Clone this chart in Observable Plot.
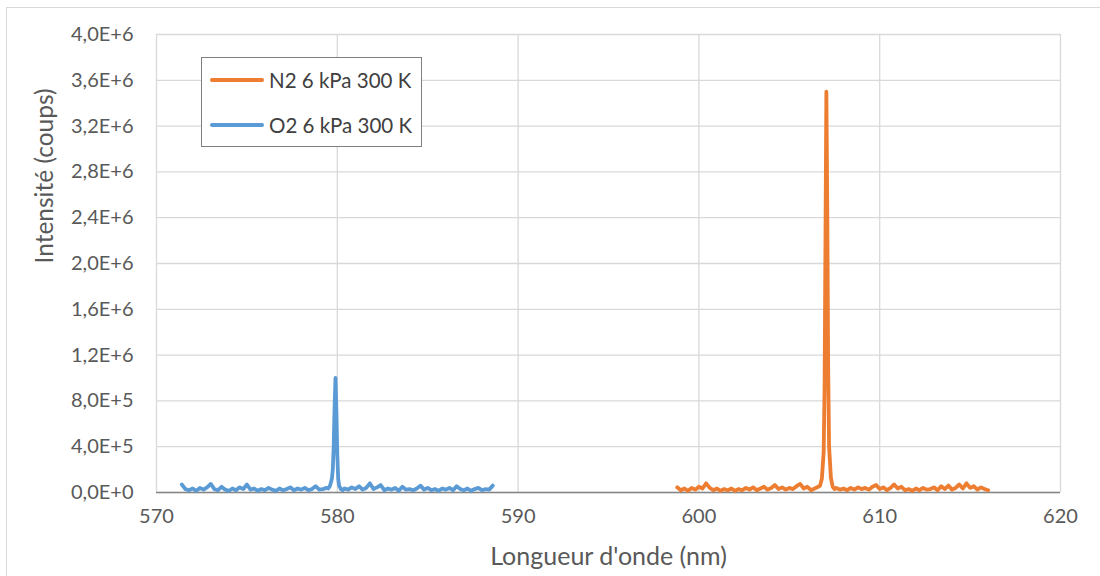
<!DOCTYPE html>
<html>
<head>
<meta charset="utf-8">
<script src="https://cdn.jsdelivr.net/npm/d3@7"></script>
<script src="https://cdn.jsdelivr.net/npm/@observablehq/plot@0.6"></script>
<style>
  html, body { margin: 0; padding: 0; background: #fff; overflow: hidden; }
  body { width: 1100px; height: 576px; position: relative; font-family: Lato, "Open Sans", sans-serif; }
  #frame { position: absolute; left: 6px; top: 7px; width: 1200px; height: 700px; border: 1px solid #d9d9d9; box-sizing: border-box; }
  #chart { position: absolute; left: 0; top: 0; }
  #legend { position: absolute; left: 201px; top: 57px; width: 221px; height: 90px; border: 1.5px solid #7f7f7f; background: #fff; box-sizing: border-box; }
  .item { position: absolute; left: 8px; height: 24px; display: flex; align-items: center; font-size: 20.5px; color: #404040; white-space: nowrap; }
  .sw { width: 54px; height: 3.8px; margin-right: 5px; border-radius: 1.9px; }
</style>
</head>
<body>
<div id="frame"></div>
<div id="chart"></div>
<div id="legend"></div>
<script>
// ---- data ----
const seriesNames = ["N2 6 kPa 300 K", "O2 6 kPa 300 K"];
const seriesColors = ["#ED7D31", "#5B9BD5"];

const o2Wavelength = [
  571.4, 571.6, 571.8, 572.0, 572.2, 572.4, 572.6, 572.8, 573.0, 573.2,
  573.4, 573.6, 573.8, 574.0, 574.2, 574.4, 574.6, 574.8, 575.0, 575.2,
  575.4, 575.6, 575.8, 576.0, 576.2, 576.4, 576.6, 576.8, 577.0, 577.2,
  577.4, 577.6, 577.8, 578.0, 578.2, 578.4, 578.6, 578.8, 579.0, 579.2,
  579.4, 579.5, 579.6, 579.7, 579.75, 579.8, 579.85, 579.9, 579.95, 580.0,
  580.05, 580.1, 580.2, 580.3, 580.4, 580.6, 580.8, 581.0, 581.2, 581.4,
  581.6, 581.8, 582.0, 582.2, 582.4, 582.6, 582.8, 583.0, 583.2, 583.4,
  583.6, 583.8, 584.0, 584.2, 584.4, 584.6, 584.8, 585.0, 585.2, 585.4,
  585.6, 585.8, 586.0, 586.2, 586.4, 586.6, 586.8, 587.0, 587.2, 587.4,
  587.6, 587.8, 588.0, 588.2, 588.4, 588.6
];
const o2Intensity = [
  70000, 30000, 20000, 35000, 15000, 40000, 25000, 45000, 75000, 30000,
  20000, 50000, 25000, 15000, 35000, 20000, 45000, 30000, 70000, 25000,
  35000, 15000, 30000, 20000, 40000, 25000, 15000, 35000, 20000, 30000,
  45000, 20000, 35000, 25000, 40000, 20000, 30000, 55000, 25000, 30000,
  40000, 35000, 60000, 120000, 200000, 400000, 750000, 1000000, 720000, 330000,
  120000, 60000, 30000, 20000, 35000, 25000, 45000, 30000, 55000, 25000,
  40000, 80000, 30000, 45000, 65000, 20000, 35000, 25000, 40000, 15000,
  50000, 25000, 30000, 20000, 35000, 60000, 25000, 40000, 20000, 30000,
  15000, 35000, 25000, 40000, 20000, 55000, 30000, 20000, 35000, 15000,
  30000, 40000, 20000, 30000, 25000, 60000
];

const n2Wavelength = [
  598.8, 599.0, 599.2, 599.4, 599.6, 599.8, 600.0, 600.2, 600.4, 600.6,
  600.8, 601.0, 601.2, 601.4, 601.6, 601.8, 602.0, 602.2, 602.4, 602.6,
  602.8, 603.0, 603.2, 603.4, 603.6, 603.8, 604.0, 604.2, 604.4, 604.6,
  604.8, 605.0, 605.2, 605.4, 605.6, 605.8, 606.0, 606.2, 606.4, 606.6,
  606.7, 606.8, 606.9, 606.95, 607.0, 607.05, 607.1, 607.15, 607.2, 607.3,
  607.4, 607.5, 607.6, 607.8, 608.0, 608.2, 608.4, 608.6, 608.8, 609.0,
  609.2, 609.4, 609.6, 609.8, 610.0, 610.2, 610.4, 610.6, 610.8, 611.0,
  611.2, 611.4, 611.6, 611.8, 612.0, 612.2, 612.4, 612.6, 612.8, 613.0,
  613.2, 613.4, 613.6, 613.8, 614.0, 614.2, 614.4, 614.6, 614.8, 615.0,
  615.2, 615.4, 615.6, 615.8, 616.0
];
const n2Intensity = [
  45000, 20000, 35000, 15000, 40000, 25000, 50000, 35000, 80000, 40000,
  20000, 35000, 15000, 30000, 20000, 35000, 15000, 30000, 20000, 40000,
  25000, 45000, 20000, 35000, 50000, 25000, 40000, 65000, 30000, 45000,
  25000, 40000, 30000, 55000, 75000, 35000, 50000, 20000, 35000, 50000,
  60000, 120000, 350000, 900000, 2200000, 3500000, 2500000, 1100000, 400000, 130000,
  50000, 30000, 40000, 25000, 35000, 20000, 40000, 25000, 45000, 30000,
  40000, 25000, 50000, 65000, 30000, 45000, 20000, 40000, 70000, 35000,
  50000, 20000, 30000, 15000, 35000, 20000, 40000, 25000, 30000, 45000,
  20000, 55000, 30000, 60000, 25000, 40000, 70000, 35000, 80000, 40000,
  55000, 25000, 45000, 30000, 20000
];

const xTicks = [570, 580, 590, 600, 610, 620];
const yTicks = [0, 400000, 800000, 1200000, 1600000, 2000000, 2400000, 2800000, 3200000, 3600000, 4000000];
const yTickLabels = ["0,0E+0", "4,0E+5", "8,0E+5", "1,2E+6", "1,6E+6", "2,0E+6", "2,4E+6", "2,8E+6", "3,2E+6", "3,6E+6", "4,0E+6"];
const xTitle = "Longueur d'onde (nm)";
const yTitle = "Intensité (coups)";

// ---- build ----
const n2 = n2Wavelength.map((w, i) => ({w, v: n2Intensity[i]}));
const o2 = o2Wavelength.map((w, i) => ({w, v: o2Intensity[i]}));
const yLabelOf = new Map(yTicks.map((t, i) => [t, yTickLabels[i]]));

const chart = Plot.plot({
  width: 1100,
  height: 576,
  marginLeft: 156,
  marginRight: 40,
  marginTop: 34,
  marginBottom: 84,
  style: {fontFamily: "Lato, 'Open Sans', sans-serif", fontSize: "20px", color: "#595959", background: "transparent"},
  x: {domain: [570, 620], ticks: xTicks},
  y: {domain: [0, 4000000], ticks: yTicks},
  marks: [
    Plot.gridX(xTicks, {stroke: "#d9d9d9", strokeOpacity: 1, strokeWidth: 1.3}),
    Plot.gridY(yTicks, {stroke: "#d9d9d9", strokeOpacity: 1, strokeWidth: 1.3}),
    Plot.ruleY([0], {stroke: "#868686", strokeWidth: 1.5}),
    Plot.axisX(xTicks, {tickSize: 0, tickPadding: 16, label: null, fill: "#595959", fontSize: 20}),
    Plot.axisY(yTicks, {tickSize: 0, tickPadding: 23, label: null, tickFormat: d => yLabelOf.get(d), fill: "#595959", fontSize: 20}),
    Plot.text([xTitle], {frameAnchor: "bottom", dy: 72, fontSize: 25, fill: "#595959"}),
    Plot.text([yTitle], {frameAnchor: "left", dx: -111, rotate: -90, fontSize: 24.5, fill: "#595959"}),
    Plot.line(o2, {x: "w", y: "v", stroke: seriesColors[1], strokeWidth: 3.8, strokeLinejoin: "round", strokeLinecap: "round"}),
    Plot.line(n2, {x: "w", y: "v", stroke: seriesColors[0], strokeWidth: 3.8, strokeLinejoin: "round", strokeLinecap: "round"})
  ]
});
document.getElementById("chart").appendChild(chart);

const legend = document.getElementById("legend");
seriesNames.forEach((name, i) => {
  const item = document.createElement("div");
  item.className = "item";
  item.style.top = (i === 0 ? 10 : 55) + "px";
  const sw = document.createElement("div");
  sw.className = "sw";
  sw.style.background = seriesColors[i];
  const label = document.createElement("span");
  label.textContent = name;
  item.appendChild(sw);
  item.appendChild(label);
  legend.appendChild(item);
});
</script>
</body>
</html>
